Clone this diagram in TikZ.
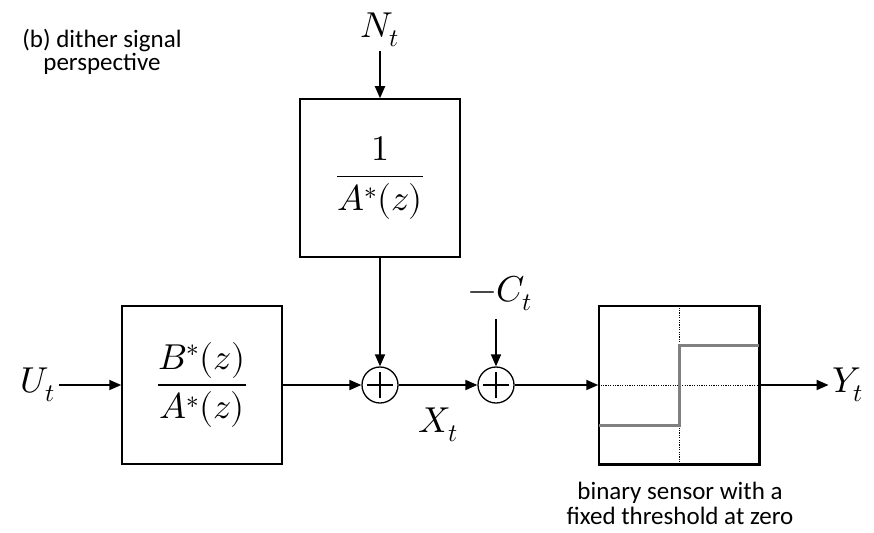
\documentclass[tikz,border=0pt]{standalone}
\usepackage{fontspec}
\usepackage{unicode-math}
\setmainfont{Carlito}
\usetikzlibrary{arrows.meta,positioning}
\tikzset{
  blockbox/.style={draw, line width=1.5pt, minimum width=160pt, minimum height=158pt, inner sep=0pt, font=\fontsize{36}{42}\selectfont},
  sumnode/.style={draw, circle, line width=1.3pt, minimum size=36pt, inner sep=0pt,
    path picture={\draw[line width=1.3pt] (path picture bounding box.center) ++(-13pt,0) -- ++(26pt,0)
      (path picture bounding box.center) ++(0,-13pt) -- ++(0,26pt);}},
  sig/.style={inner sep=4pt, font=\fontsize{36}{42}\selectfont},
  txt/.style={align=center, font=\fontsize{25}{23.5}\selectfont},
  flow/.style={-{Triangle[length=12pt,width=10pt]}, line width=1.8pt},
  stepline/.style={draw=black!50, line width=3pt},
  grid/.style={line width=1pt, dash pattern=on 1.2pt off 1.2pt},
}
\begin{document}
\begin{tikzpicture}[x=1pt, y=-1pt]
  \useasboundingbox (0,0) rectangle (874,532);
  \node[txt] (title) at (102,52) {(b) dither signal\\perspective};
  \node[sig] (Nt) at (380,30) {$N_t$};
  \node[blockbox] (invA) at (380,178) {$\dfrac{1}{A^*(z)}$};
  \node[sig] (Ut) at (38,385) {$U_t$};
  \node[blockbox] (plant) at (202,385) {$\dfrac{B^*(z)}{A^*(z)}$};
  \node[sumnode] (sum1) at (380,385) {};
  \node[sumnode] (sum2) at (496,385) {};
  \node[sig] (Ct) at (500,293) {$-C_t$};
  \coordinate (Ctin) at (496,319);
  \node[sig] (Xt) at (438,425) {$X_t$};
  \node[blockbox] (sensor) at (679,385) {};
  \node[sig] (Yt) at (848,385) {$Y_t$};
  \node[txt, font=\fontsize{25}{25}\selectfont] (sensorlabel) at (680,503) {binary sensor with a\\fixed threshold at zero};

  \draw[grid] (sensor.north) -- (sensor.south);
  \draw[grid] (sensor.west) -- (sensor.east);
  \draw[stepline] ([yshift=-40pt]sensor.west) -- ([yshift=-40pt]sensor.center)
    -- ([yshift=40pt]sensor.center) -- ([yshift=40pt]sensor.east);
  \draw[line width=1.5pt] (sensor.south west) rectangle (sensor.north east);

  \draw[flow] (Ut) -- (plant);
  \draw[flow] (plant) -- (sum1);
  \draw[flow] (sum1) -- (sum2);
  \draw[flow] (sum2) -- (sensor);
  \draw[flow] (sensor) -- (Yt);
  \draw[flow] (Nt) -- (invA);
  \draw[flow] (invA) -- (sum1);
  \draw[flow] (Ctin) -- (sum2);
\end{tikzpicture}
\end{document}
